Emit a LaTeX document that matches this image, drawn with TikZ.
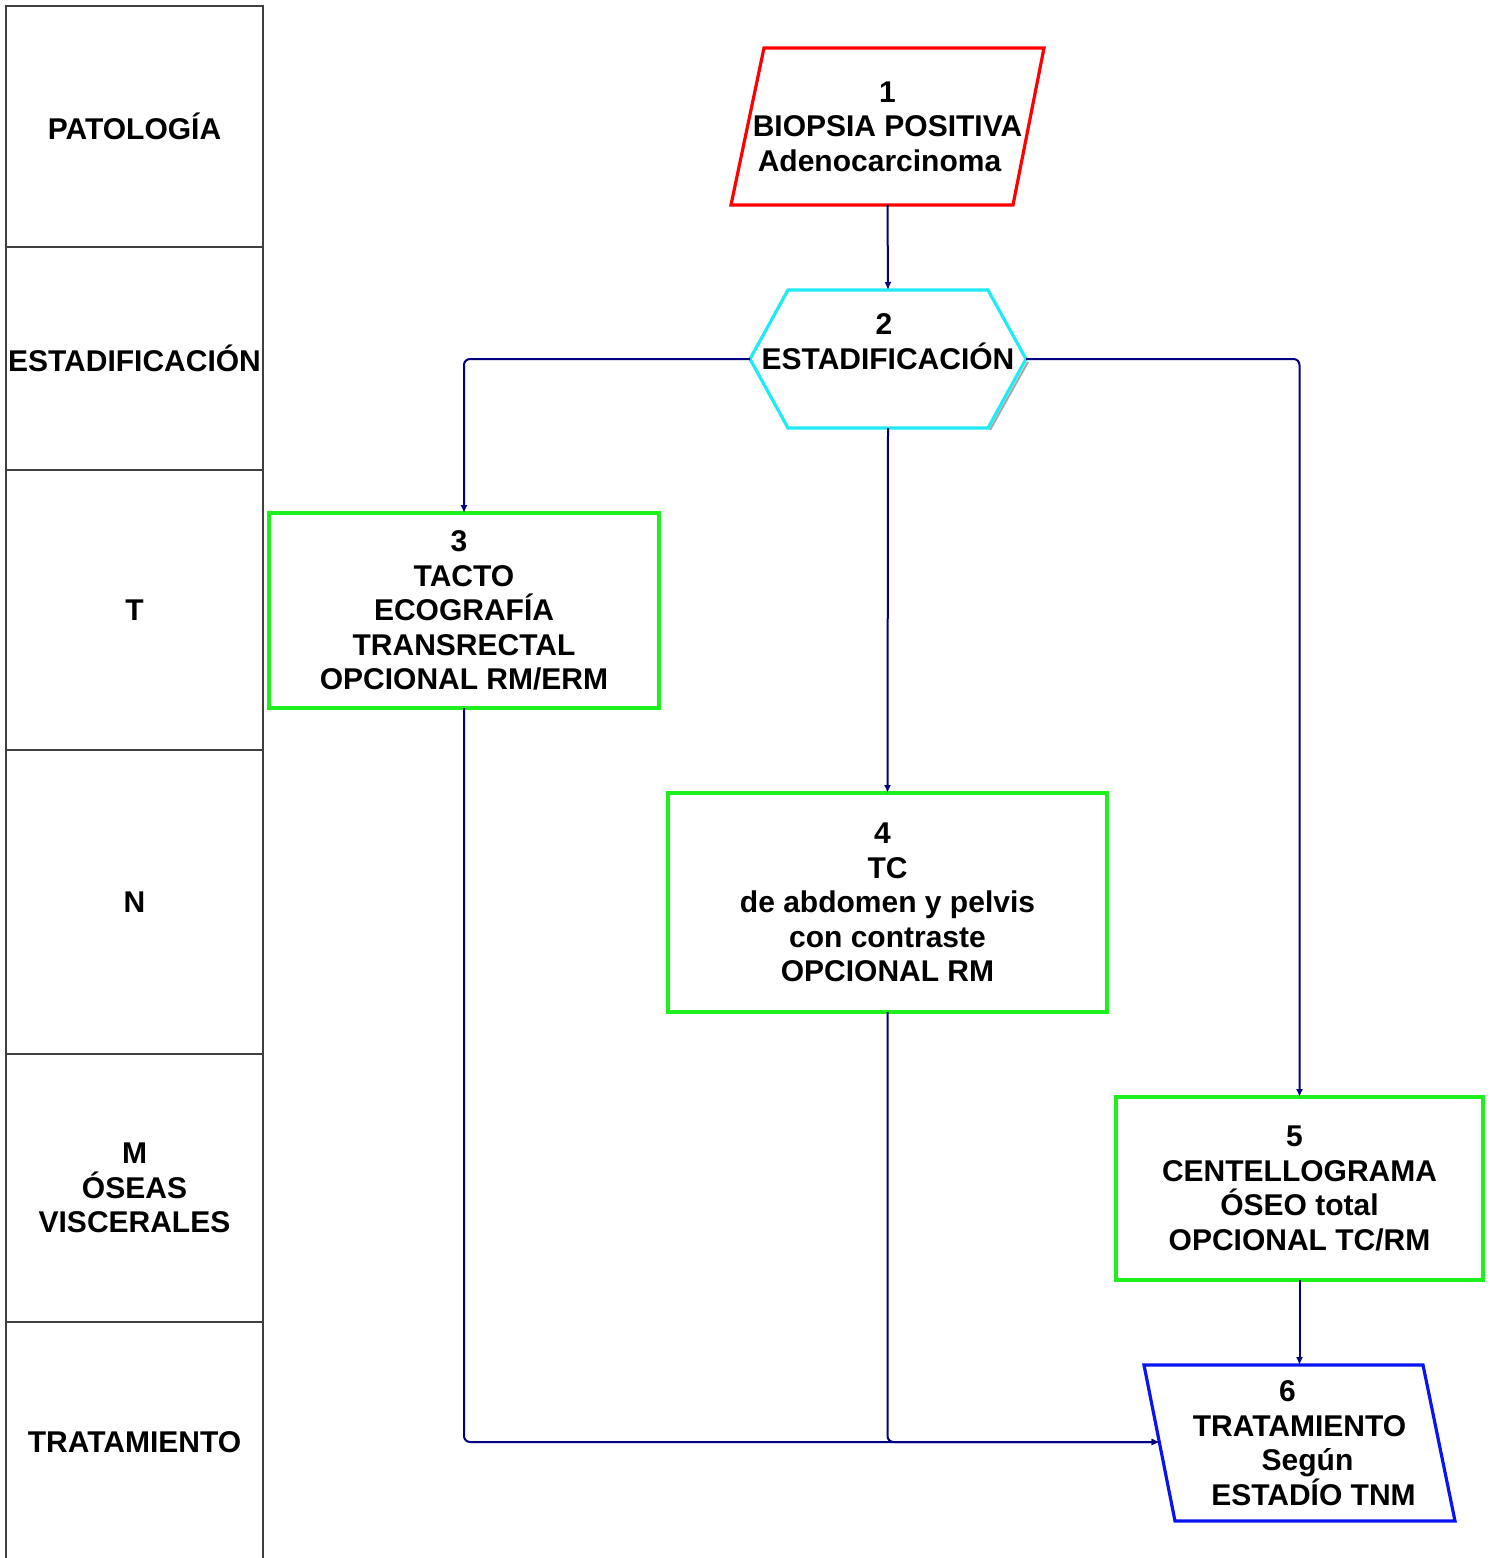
\documentclass[tikz,border=0pt]{standalone}
\usepackage{fontspec}
\setmainfont{Liberation Sans}
\usetikzlibrary{arrows.meta}
\definecolor{navy}{HTML}{000080}
\definecolor{cred}{HTML}{FF0000}
\definecolor{ccyan}{HTML}{1FEAF5}
\definecolor{cgreen}{HTML}{1EF01E}
\definecolor{cblue}{HTML}{0A14F0}
\definecolor{tgray}{HTML}{404040}
\tikzset{
  txt/.style={font=\fontsize{15}{17.25}\selectfont\bfseries, align=center, inner sep=0pt, outer sep=0pt},
  row/.style={txt, draw=tgray, line width=0.8pt, minimum width=128.5pt},
  box/.style={txt, line width=1.6pt},
  gbox/.style={box, draw=cgreen},
  conn/.style={draw=navy, line width=1pt, rounded corners=3pt, -{Latex[length=4pt,width=3.5pt]}},
  shapeline/.style={line width=1.6pt, line join=miter},
}
\begin{document}
\begin{tikzpicture}[x=0.5pt,y=-0.5pt]
\useasboundingbox (0,0) rectangle (1494,1558);
% left table
\node[row, minimum height=120.5pt] (r1) at (134.5,126.5) {PATOLOGÍA};
\node[row, minimum height=111.5pt] (r2) at (134.5,358.5) {ESTADIFICACIÓN};
\node[row, minimum height=140pt] (r3) at (134.5,610) {T};
\node[row, minimum height=152pt] (r4) at (134.5,902) {N};
\node[row, minimum height=134pt] (r5) at (134.5,1188) {M\\ÓSEAS\\VISCERALES};
\node[row, minimum height=120pt] (r6) at (134.5,1442) {TRATAMIENTO};

% node 1 (parallelogram, red)
\draw[shapeline, draw=cred] (764,48) -- (1044,48) -- (1013,205) -- (731,205) -- cycle;
\node[box, minimum width=156.5pt, minimum height=78.5pt] (n1) at (887.5,126.5)
  {1\\BIOPSIA POSITIVA\\Adenocarcinoma\hspace*{8pt}};

% node 2 (hexagon, cyan)
\draw[gray!70, line width=1pt] (1028,362) -- (990,430);
\draw[shapeline, draw=ccyan] (788,290) -- (988,290) -- (1026,359) -- (988,428) -- (788,428) -- (750,359) -- cycle;
\node[box, minimum width=138pt, minimum height=69pt] (n2) at (888,359)
  {2\hspace*{4pt}\\ESTADIFICACIÓN\\\mbox{}};

% node 3
\node[gbox, minimum width=195pt, minimum height=97.5pt] (n3) at (464,610.5)
  {3\hspace*{5pt}\\TACTO\\ECOGRAFÍA\\TRANSRECTAL\\OPCIONAL RM/ERM};

% node 4
\node[gbox, minimum width=219.5pt, minimum height=109.5pt] (n4) at (887.5,902.5)
  {4\hspace*{5pt}\\TC\\de abdomen y pelvis\\con contraste\\OPCIONAL RM};

% node 5
\node[gbox, minimum width=183.5pt, minimum height=91.5pt] (n5) at (1299.5,1188.5)
  {5\hspace*{5pt}\\CENTELLOGRAMA\\ÓSEO total\\OPCIONAL TC/RM};

% node 6 (parallelogram, blue)
\draw[shapeline, draw=cblue] (1144,1365) -- (1423,1365) -- (1455,1521) -- (1175,1521) -- cycle;
\node[box, minimum width=155.5pt, minimum height=78pt] (n6) at (1299.5,1443)
  {6\hspace*{12pt}\\TRATAMIENTO\hspace*{4pt}\\\hspace*{8pt}Según\\\hspace*{14pt}ESTADÍO TNM};
\coordinate (n6w) at (1159.5,1442);

% connectors
\draw[conn] (n1.south) -- (n2.north);
\draw[conn] (n2.west) -| (n3.north);
\draw[conn] (n2.east) -| (n5.north);
\draw[conn] (n2.south) -- (n4.north);
\draw[conn] (n5.south) -- (n6.north);
\draw[conn] (n3.south) |- (n6w);
\draw[conn] (n4.south) |- (n6w);
\end{tikzpicture}
\end{document}
